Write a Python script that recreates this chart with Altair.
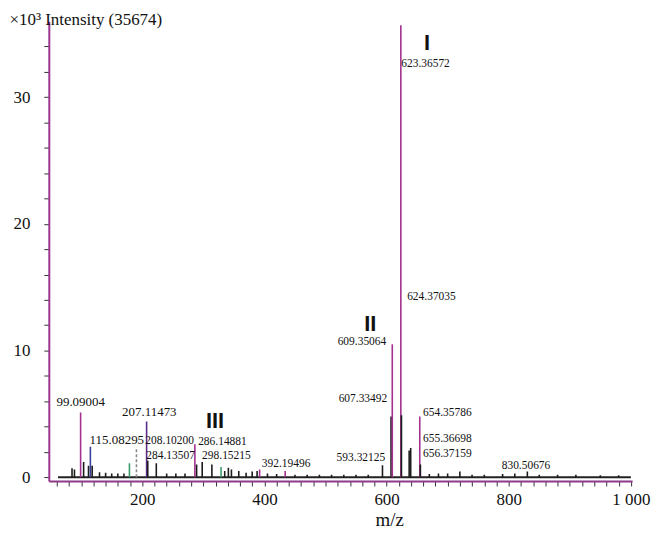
import altair as alt
import pandas as pd

# ---- peaks (m/z, intensity x10^3, tone) ----
peak_mz = [85, 89, 99.09, 104, 112, 115.08, 118, 130, 140, 150, 160, 170,
           179, 190.5, 207.11, 209, 223, 240, 255, 270, 286.15, 289,
           298.15, 314, 329, 335, 341, 346, 358, 370, 380, 388, 392.19,
           405, 420, 434, 450, 470, 490, 510, 530, 550, 570,
           593.32, 607.33, 609.35, 623.37, 624.37, 637, 639.5, 654.36, 655.37,
           670, 685, 700, 720, 740, 760, 790, 810, 830.51, 850, 880, 910, 950, 980]
peak_int = [0.7, 0.6, 5.1, 1.2, 0.9, 2.4, 0.9, 0.4, 0.35, 0.3, 0.3, 0.3,
            1.1, 2.2, 4.4, 1.3, 1.1, 0.3, 0.3, 0.3, 2.6, 1.0,
            1.2, 1.0, 0.8, 0.5, 0.75, 0.6, 0.5, 0.35, 0.45, 0.5, 0.6,
            0.3, 0.25, 0.5, 0.2, 0.2, 0.2, 0.2, 0.2, 0.2, 0.2,
            0.95, 4.8, 10.5, 35.674, 4.9, 2.1, 2.3, 4.8, 1.0,
            0.25, 0.3, 0.3, 0.45, 0.2, 0.2, 0.25, 0.3, 0.45, 0.2, 0.2, 0.2, 0.15, 0.15]
peak_tone = ["black", "black", "magenta", "black", "black", "blue", "black", "black", "black", "black", "black", "black",
             "green", "gray", "purple", "black", "black", "black", "black", "black", "magenta", "black",
             "black", "black", "green", "black", "black", "black", "black", "black", "black", "black", "magenta",
             "black", "black", "magenta", "black", "black", "black", "black", "black", "black", "black",
             "black", "black", "magenta", "magenta", "black", "black", "black", "magenta", "black",
             "black", "black", "black", "black", "black", "black", "black", "black", "black", "black", "black", "black", "black", "black"]

tone_names = ["magenta", "purple", "blue", "black", "green", "gray"]
tone_colors = ["#a3318f", "#5a2d8a", "#3b3f9c", "#1c1c1c", "#3c9a6c", "#8a8a8a"]

# ---- peak labels (anchor in data units) ----
label_text = ["99.09004", "115.08295", "207.11473", "208.10200", "284.13507", "286.14881",
              "298.15215", "392.19496", "593.32125", "607.33492", "609.35064", "623.36572",
              "624.37035", "654.35786", "655.36698", "656.37159", "830.50676"]
label_mz = [99.2, 113.8, 211.6, 205.1, 206.7, 291.5, 298.0, 395.8, 597.8, 601.1, 599.5,
            624.0, 633.7, 659.8, 659.8, 659.8, 788.5]
label_int = [5.97, 2.91, 5.18, 2.83, 1.65, 2.75, 1.65, 1.02, 1.49, 6.21, 10.68,
             32.6, 14.2, 5.03, 2.99, 1.81, 0.86]
label_align = ["center", "left", "center", "left", "left", "left", "left", "left", "right",
               "right", "right", "left", "left", "left", "left", "left", "left"]
label_big = [True, True, True, False, False, False, False, False, False, False, False,
             False, False, False, False, False, False]

roman_text = ["I", "II", "III"]
roman_mz = [666.3, 573.4, 319.2]
roman_int = [34.25, 12.1, 4.4]

x_ticks = list(range(60, 1001, 20))
y_ticks = list(range(0, 35, 2))

peaks = pd.DataFrame({"mz": peak_mz, "inten": peak_int, "tone": peak_tone, "zero": 0.0})
labels = pd.DataFrame({"text": label_text, "mz": label_mz, "inten": label_int,
                       "align": label_align, "big": label_big})
romans = pd.DataFrame({"text": roman_text, "mz": roman_mz, "inten": roman_int})
baseline = pd.DataFrame({"x": [62], "x2": [1000], "y": [0]})

serif = "Liberation Serif"
xscale = alt.Scale(domain=[47, 1002], nice=False, zero=False)
yscale = alt.Scale(domain=[-0.3, 36], nice=False, zero=False)

xaxis = alt.Axis(values=x_ticks,
                 labelExpr="datum.value % 200 === 0 ? (datum.value === 1000 ? '1 000' : format(datum.value, 'd')) : ''",
                 labelFont=serif, labelFontSize=17, labelColor="#111", labelPadding=6,
                 labelOverlap=False, labelFlush=False,
                 tickSize=5, tickColor="#333", domainColor="#8d3a8a", domainWidth=2,
                 grid=False, title="m/z", titleFont=serif, titleFontSize=19,
                 titleFontWeight="normal", titleColor="#111", titleX=342, titleY=45,
                 titleAlign="center", titleBaseline="alphabetic")
yaxis = alt.Axis(values=y_ticks,
                 labelExpr="datum.value % 10 === 0 ? format(datum.value, 'd') : ''",
                 labelFont=serif, labelFontSize=17, labelColor="#111", labelPadding=14,
                 labelOverlap=False, labelFlush=False,
                 tickSize=5, tickColor="#333", domainColor="#9a3592", domainWidth=2,
                 grid=False, title="×10³ Intensity (35674)", titleFont=serif, titleFontSize=17,
                 titleFontWeight="normal", titleColor="#111", titleAngle=0, titleAlign="left",
                 titleX=-40, titleY=3, titleBaseline="alphabetic")


def X(field):
    return alt.X(field, scale=xscale, axis=xaxis)


def Y(field):
    return alt.Y(field, scale=yscale, axis=yaxis)


base_rule = alt.Chart(baseline).mark_rule(color="#222", strokeWidth=2).encode(
    x=X("x:Q"), x2="x2:Q", y=Y("y:Q"))

peak_rules = alt.Chart(peaks).mark_rule(strokeWidth=1.6).encode(
    x=X("mz:Q"),
    y=Y("zero:Q"),
    y2="inten:Q",
    color=alt.Color("tone:N", scale=alt.Scale(domain=tone_names, range=tone_colors), legend=None),
    strokeDash=alt.condition(alt.datum.tone == "gray", alt.value([3, 2]), alt.value([1, 0])))

label_layers = []
for al in ["left", "center", "right"]:
    for big, size in [(True, 13), (False, 11.5)]:
        sub = labels[(labels["align"] == al) & (labels["big"] == big)]
        if len(sub) == 0:
            continue
        label_layers.append(
            alt.Chart(sub).mark_text(font=serif, fontSize=size, color="#111",
                                     baseline="middle", align=al).encode(
                x=X("mz:Q"), y=Y("inten:Q"), text="text:N"))

roman = alt.Chart(romans).mark_text(font="Liberation Sans", fontSize=22, fontWeight="bold",
                                    color="#111", baseline="middle", align="center").encode(
    x=X("mz:Q"), y=Y("inten:Q"), text="text:N")

chart = alt.layer(base_rule, peak_rules, *label_layers, roman).properties(
    width=586, height=462,
    autosize=alt.AutoSizeParams(type="none"),
    padding={"left": 41, "top": 12, "right": 20, "bottom": 51},
).configure_view(stroke=None).configure_axis(grid=False, labelOverlap=False)

chart.save("out.html", embed_options={"renderer": "svg", "actions": False})
